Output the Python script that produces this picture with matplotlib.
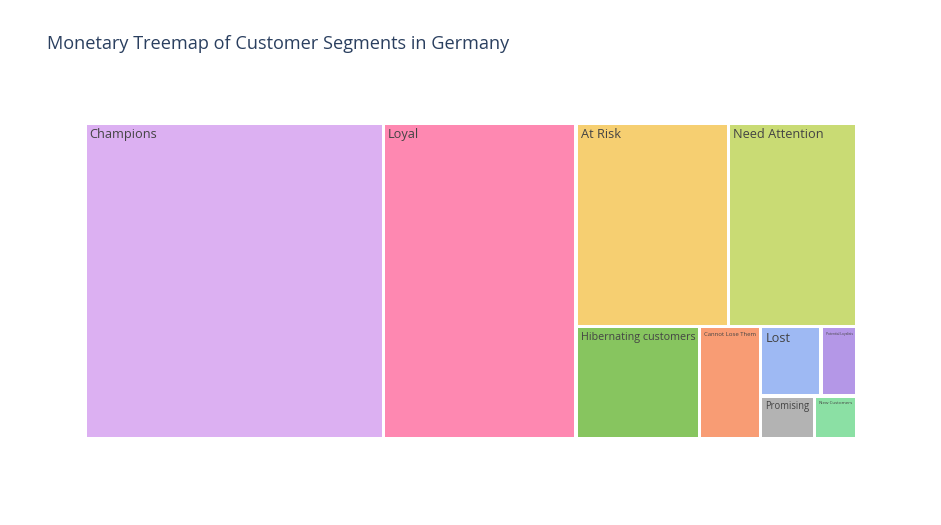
import matplotlib.pyplot as plt
from matplotlib.patches import Rectangle

# --- DATA (monetary value per segment) ---
segments = ["Champions", "Loyal", "At Risk", "Need Attention", "Hibernating customers",
            "Cannot Lose Them", "Lost", "Potential Loyalists", "Promising", "New Customers"]
monetary = [94000, 60800, 31000, 26050, 13900, 6860, 4170, 2500, 2320, 1810]
colors = ["#DCB0F2", "#FE88B1", "#F6CF71", "#C9DB74", "#87C55F",
          "#F89C74", "#9EB9F3", "#B497E7", "#B3B3B3", "#8BE0A4"]


def worst(row, side):
    s = sum(row)
    return max(max(side * side * r / (s * s), s * s / (side * side * r)) for r in row)


def squarify(vals, x, y, w, h):
    # vals already scaled to area; returns list of (x, y, w, h)
    rects = []
    vals = list(vals)
    while vals:
        side = min(w, h)
        row = [vals.pop(0)]
        while vals and worst(row + [vals[0]], side) <= worst(row, side):
            row.append(vals.pop(0))
        s = sum(row)
        if w >= h:
            # column on the left
            cw = s / h
            yy = y
            for r in row:
                rects.append((x, yy, cw, r / cw))
                yy += r / cw
            x += cw
            w -= cw
        else:
            # row on top
            rh = s / w
            xx = x
            for r in row:
                rects.append((xx, y, r / rh, rh))
                xx += r / rh
            y += rh
            h -= rh
    return rects


W, H = 772, 316
total = sum(monetary)
areas = [v * W * H / total for v in monetary]
rects = squarify(areas, 0, 0, W, H)

fig = plt.figure(figsize=(9.41, 5.25), dpi=100)
ax = fig.add_axes([85 / 941, 86 / 525, W / 941, H / 525])
ax.set_xlim(0, W)
ax.set_ylim(H, 0)
ax.axis("off")

fig.text(47 / 941, 1 - 44 / 525, "Monetary Treemap of Customer Segments in Germany",
         fontsize=13.1, color="#2a3f5f", family="Open Sans", va="center")

fig.canvas.draw()
renderer = fig.canvas.get_renderer()
gap = 1.6
base = 9.2
for (x, y, w, h), name, c in zip(rects, segments, colors):
    ax.add_patch(Rectangle((x + gap, y + gap), w - 2 * gap, h - 2 * gap,
                           facecolor=c, edgecolor="none"))
    t = ax.text(x + gap + 3, y + gap + 3.5, name, fontsize=base, color="#444444",
                family="Open Sans", ha="left", va="top")
    tw = t.get_window_extent(renderer).width
    avail = w - 2 * gap - 6
    if tw > avail:
        t.set_fontsize(base * avail / tw)

fig.savefig("out.png", dpi=100, facecolor="white")
